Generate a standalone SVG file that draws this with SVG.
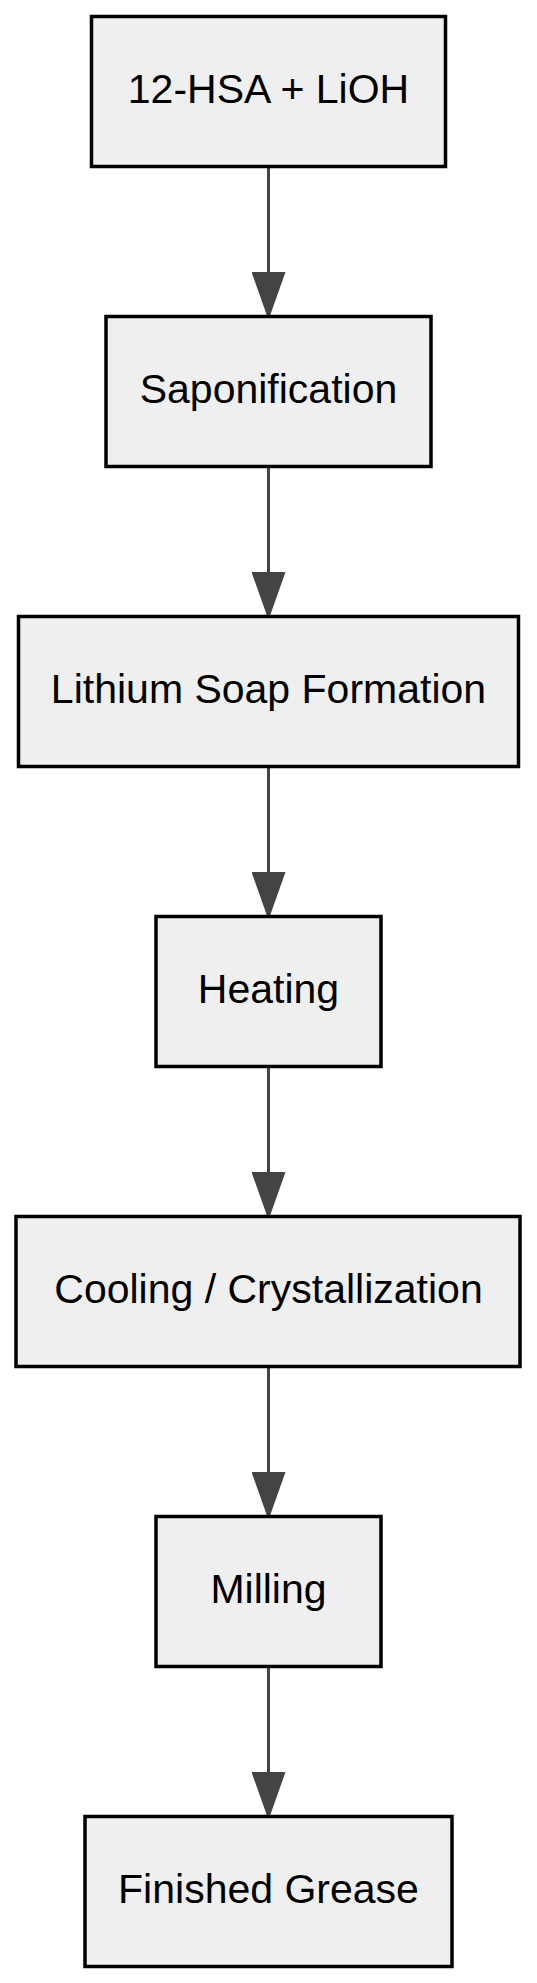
<svg xmlns="http://www.w3.org/2000/svg" width="537" height="1983" viewBox="0 0 537 1983">
<style>
.box{fill:#efefef;stroke:#000;stroke-width:3.5}
.lbl{font-family:"Liberation Sans",Arial,sans-serif;font-size:41px;fill:#000;text-anchor:middle}
.edge{stroke:#444;stroke-width:3;fill:none}
</style>
<defs>
<marker id="arr" markerUnits="userSpaceOnUse" markerWidth="48" markerHeight="34" refX="48" refY="17" orient="auto">
<path d="M0,0 L48,17 L0,34 z" fill="#444"/>
</marker>
</defs>
<rect width="537" height="1983" fill="#fff"/>
<g id="connectors">
<line class="edge" x1="268.5" y1="168" x2="268.5" y2="320" marker-end="url(#arr)"/>
<line class="edge" x1="268.5" y1="468" x2="268.5" y2="620" marker-end="url(#arr)"/>
<line class="edge" x1="268.5" y1="768" x2="268.5" y2="920" marker-end="url(#arr)"/>
<line class="edge" x1="268.5" y1="1068" x2="268.5" y2="1220" marker-end="url(#arr)"/>
<line class="edge" x1="268.5" y1="1368" x2="268.5" y2="1520" marker-end="url(#arr)"/>
<line class="edge" x1="268.5" y1="1668" x2="268.5" y2="1820" marker-end="url(#arr)"/>
</g>
<g id="n1"><rect class="box" x="91.5" y="16.5" width="354" height="150"/><text class="lbl" x="268.5" y="102.5">12-HSA + LiOH</text></g>
<g id="n2"><rect class="box" x="106" y="316.5" width="325" height="150"/><text class="lbl" x="268.5" y="402.5">Saponification</text></g>
<g id="n3"><rect class="box" x="18.5" y="616.5" width="500" height="150"/><text class="lbl" x="268.5" y="702.5">Lithium Soap Formation</text></g>
<g id="n4"><rect class="box" x="156" y="916.5" width="225" height="150"/><text class="lbl" x="268.5" y="1002.5">Heating</text></g>
<g id="n5"><rect class="box" x="16" y="1216.5" width="504" height="150"/><text class="lbl" x="268.5" y="1302.5">Cooling / Crystallization</text></g>
<g id="n6"><rect class="box" x="156" y="1516.5" width="225" height="150"/><text class="lbl" x="268.5" y="1602.5">Milling</text></g>
<g id="n7"><rect class="box" x="85" y="1816.5" width="367" height="150"/><text class="lbl" x="268.5" y="1902.5">Finished Grease</text></g>
</svg>
